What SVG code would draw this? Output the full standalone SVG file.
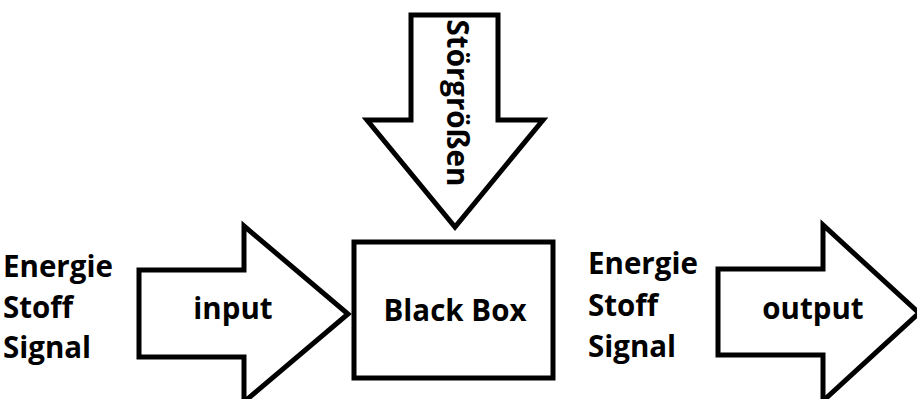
<svg xmlns="http://www.w3.org/2000/svg" width="917" height="399" viewBox="0 0 917 399">
  <style>
    .shape { fill: #ffffff; stroke: #000000; stroke-width: 5; stroke-linejoin: miter; }
    .lbl { font-family: "Open Sans", "Noto Sans", sans-serif; font-weight: bold; font-size: 29.5px; fill: #000000; }
    .mid { text-anchor: middle; }
  </style>
  <rect x="0" y="0" width="917" height="399" fill="#ffffff"/>

  <!-- Block arrows (connectors) -->
  <g id="connectors">
    <g id="arrow-disturbance">
      <polygon class="shape" points="411,15 498,15 498,120 543,120 455,227 367,120 411,120"/>
      <text class="lbl" transform="translate(447,103) rotate(90)" text-anchor="middle">Störgrößen</text>
    </g>
    <g id="arrow-input">
      <polygon class="shape" points="139,270 244,270 244,226 348,314 244,402 244,357 139,357"/>
      <text class="lbl mid" x="233" y="319">input</text>
    </g>
    <g id="arrow-output">
      <polygon class="shape" points="718,269 823,269 823,225 919,313 823,401 823,355 718,355"/>
      <text class="lbl mid" x="813" y="319">output</text>
    </g>
  </g>

  <!-- Central system block -->
  <g id="black-box">
    <rect class="shape" x="354" y="242" width="199" height="136"/>
    <text class="lbl mid" x="455" y="321">Black Box</text>
  </g>

  <!-- Input quantities -->
  <g id="input-labels">
    <text class="lbl" x="3" y="277">Energie</text>
    <text class="lbl" x="3" y="318">Stoff</text>
    <text class="lbl" x="3" y="358">Signal</text>
  </g>

  <!-- Output quantities -->
  <g id="output-labels">
    <text class="lbl" x="588" y="274">Energie</text>
    <text class="lbl" x="588" y="316">Stoff</text>
    <text class="lbl" x="588" y="357">Signal</text>
  </g>
</svg>
